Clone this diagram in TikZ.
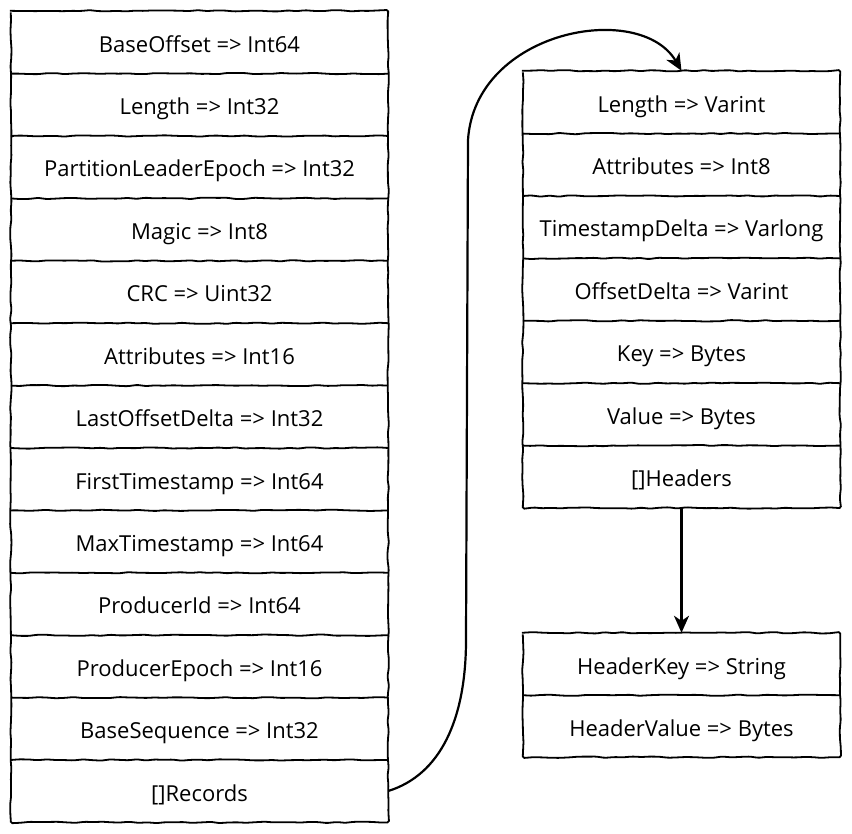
\documentclass[tikz,border=0pt]{standalone}
\usepackage{fontspec}
\setmainfont{Open Sans}
\usetikzlibrary{arrows.meta,decorations.pathmorphing}
\begin{document}
\begin{tikzpicture}[x=1pt,y=-1pt,
  cell/.style={draw=none,minimum height=62.4pt,inner sep=0pt,text height=20pt,text depth=0pt,font=\fontsize{22}{24}\selectfont},
  lcell/.style={cell,minimum width=377pt},
  rcell/.style={cell,minimum width=317pt},
  sketch/.style={line width=1.8pt,decorate,decoration={random steps,segment length=9pt,amplitude=0.7pt},rounded corners=1.5pt},
  conn/.style={line width=2.2pt,-{Stealth[length=17pt,width=15pt,inset=5pt]}}]
\pgfmathsetseed{7}
\useasboundingbox (0,0) rectangle (852,834);
% left table
\foreach \t [count=\i] in {BaseOffset => Int64,Length => Int32,PartitionLeaderEpoch => Int32,Magic => Int8,CRC => Uint32,Attributes => Int16,LastOffsetDelta => Int32,FirstTimestamp => Int64,MaxTimestamp => Int64,ProducerId => Int64,ProducerEpoch => Int16,BaseSequence => Int32,{[]Records}}
  \node[lcell] (l\i) at (199.5,{11+31.2+62.4*(\i-1)}) {\t};
\draw[sketch] (l1.north west) rectangle (l13.south east);
\foreach \i in {1,...,12} \draw[sketch] (l\i.south west) -- (l\i.south east);
% right table
\foreach \t [count=\i] in {Length => Varint,Attributes => Int8,TimestampDelta => Varlong,OffsetDelta => Varint,Key => Bytes,Value => Bytes,{[]Headers}}
  \node[rcell] (r\i) at (681.5,{71+31.2+62.4*(\i-1)}) {\t};
\draw[sketch] (r1.north west) rectangle (r7.south east);
\foreach \i in {1,...,6} \draw[sketch] (r\i.south west) -- (r\i.south east);
% header table
\node[rcell,minimum height=62pt] (h1) at (681.5,664) {HeaderKey => String};
\node[rcell,minimum height=62pt] (h2) at (681.5,726) {HeaderValue => Bytes};
\draw[sketch] (h1.north west) rectangle (h2.south east);
\draw[sketch] (h1.south west) -- (h1.south east);
% connectors
\draw[conn] (l13.east) .. controls (440,775) and (466,720) .. (466,640) -- (468,140) .. controls (475,30) and (640,0) .. (r1.north);
\draw[conn] (r7.south) -- (h1.north);
\end{tikzpicture}
\end{document}
